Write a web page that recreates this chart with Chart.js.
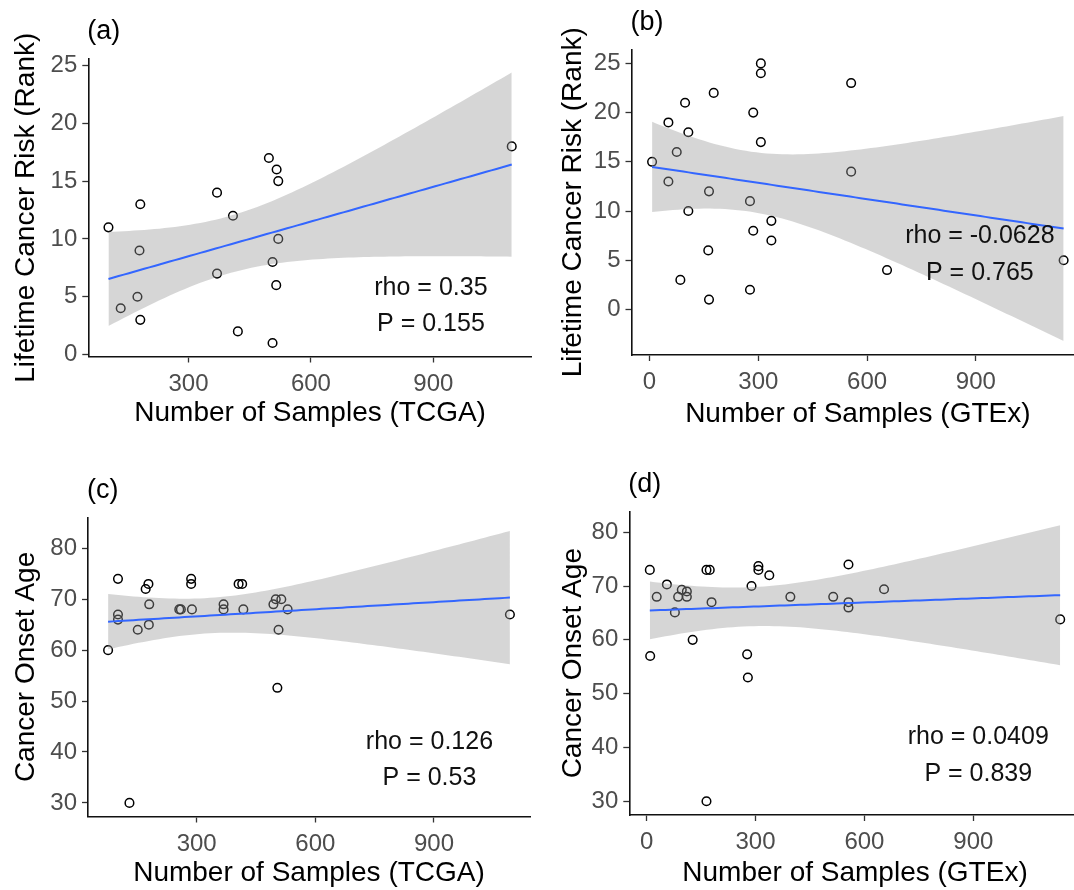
<!DOCTYPE html>
<html>
<head>
<meta charset="utf-8">
<script src="https://cdn.jsdelivr.net/npm/chart.js@4.4.0/dist/chart.umd.min.js"></script>
<style>
  html, body { margin: 0; padding: 0; background: #fff; width: 1074px; height: 890px; overflow: hidden; }
  .panel { position: absolute; }
</style>
</head>
<body>
<div class="panel" style="left:0px;top:0px"><canvas id="chartA" width="545" height="445"></canvas></div>
<div class="panel" style="left:545px;top:0px"><canvas id="chartB" width="545" height="445"></canvas></div>
<div class="panel" style="left:0px;top:445px"><canvas id="chartC" width="545" height="445"></canvas></div>
<div class="panel" style="left:545px;top:445px"><canvas id="chartD" width="545" height="445"></canvas></div>
<script>
// (a) number of TCGA samples vs lifetime cancer risk rank
const tcgaSamplesRisk = [104, 182, 180, 175, 134, 182, 370, 370, 409, 421, 497, 516, 520, 520, 506, 515, 506, 1092];
const riskRankTcga    = [11, 13, 9, 5, 4, 3, 14, 7, 12, 2, 17, 16, 15, 10, 8, 6, 1, 18];

// (b) number of GTEx samples vs lifetime cancer risk rank
const gtexSamplesRisk = [7, 52, 52, 75, 98, 107, 107, 85, 177, 164, 162, 164, 286, 307, 307, 307, 277, 286, 277, 336, 336, 556, 556, 655, 1142];
const riskRankGtex    = [15, 19, 13, 16, 21, 18, 10, 3, 22, 12, 6, 1, 20, 25, 24, 17, 11, 8, 2, 9, 7, 23, 14, 4, 5];

// (c) number of TCGA samples vs cancer onset age
const tcgaSamplesOnset = [76, 101, 101, 101, 130, 151, 171, 178, 180, 179, 256, 260, 288, 286, 286, 368, 368, 406, 415, 418, 494, 500, 514, 507, 504, 530, 1092];
const onsetAgeTcga     = [60, 74, 67, 66, 30, 64, 72, 73, 69, 65, 68, 68, 68, 74, 73, 69, 68, 73, 73, 68, 69, 70, 70, 64, 52.6, 68, 67];

// (d) number of GTEx samples vs cancer onset age
const gtexSamplesOnset = [9, 10, 28, 56, 78, 87, 97, 111, 111, 127, 165, 165, 174, 179, 277, 279, 289, 308, 308, 338, 396, 514, 556, 556, 556, 654, 1139];
const onsetAgeGtex     = [73, 57, 68, 70.3, 65.1, 68, 69.3, 69, 68, 60, 30, 73, 73, 67, 57.3, 53, 70, 73.7, 73, 72, 68, 68, 74, 67, 66, 69.4, 63.8];

// tick labels
const rankTicks = [0, 5, 10, 15, 20, 25];
const ageTicks  = [30, 40, 50, 60, 70, 80];
const tcgaTicks = [300, 600, 900];
const gtexTicks = [0, 300, 600, 900];

// correlation text
const statA = ['rho = 0.35', 'P = 0.155'];
const statB = ['rho = -0.0628', 'P = 0.765'];
const statC = ['rho = 0.126', 'P = 0.53'];
const statD = ['rho = 0.0409', 'P = 0.839'];

const FONT = '"Liberation Sans", Arial, sans-serif';

// t quantile (0.975) - Cornish-Fisher expansion
function tCrit(df) {
  const z = 1.959964;
  const z3 = z * z * z, z5 = z3 * z * z, z7 = z5 * z * z;
  return z + (z3 + z) / (4 * df) + (5 * z5 + 16 * z3 + 3 * z) / (96 * df * df)
    + (3 * z7 + 19 * z5 + 17 * z3 - 15 * z) / (384 * df * df * df);
}

// linear model with 95% confidence band, like geom_smooth(method = "lm")
function lmBand(xs, ys) {
  const n = xs.length;
  const mx = xs.reduce((a, b) => a + b, 0) / n;
  const my = ys.reduce((a, b) => a + b, 0) / n;
  let sxx = 0, sxy = 0, syy = 0;
  for (let i = 0; i < n; i++) {
    sxx += (xs[i] - mx) ** 2;
    sxy += (xs[i] - mx) * (ys[i] - my);
    syy += (ys[i] - my) ** 2;
  }
  const b = sxy / sxx, a = my - b * mx;
  const s = Math.sqrt((syy - b * sxy) / (n - 2));
  const t = tCrit(n - 2);
  const x0 = Math.min(...xs), x1 = Math.max(...xs);
  const fit = [], upper = [], lower = [];
  for (let i = 0; i < 80; i++) {
    const x = x0 + (x1 - x0) * i / 79;
    const yh = a + b * x;
    const se = s * Math.sqrt(1 / n + (x - mx) ** 2 / sxx);
    fit.push({x: x, y: yh});
    upper.push({x: x, y: yh + t * se});
    lower.push({x: x, y: yh - t * se});
  }
  const yAll = ys.concat(upper.map(p => p.y), lower.map(p => p.y));
  const ylo = Math.min(...yAll), yhi = Math.max(...yAll);
  const dx = (x1 - x0) * 0.05, dy = (yhi - ylo) * 0.05;
  return {fit, upper, lower, xlim: [x0 - dx, x1 + dx], ylim: [ylo - dy, yhi + dy]};
}

const statText = {
  id: 'statText',
  afterDatasetsDraw(chart, args, o) {
    const {ctx, chartArea, scales} = chart;
    ctx.save();
    ctx.fillStyle = '#111';
    ctx.textBaseline = 'middle';
    ctx.textAlign = 'center';
    ctx.font = '25px ' + FONT;
    const px = scales.x.getPixelForValue(o.at[0]);
    const py = scales.y.getPixelForValue(o.at[1]);
    o.lines.forEach((t, i) => ctx.fillText(t, px, py + i * 36.5));
    ctx.textAlign = 'left';
    ctx.font = '27px ' + FONT;
    ctx.fillStyle = '#000';
    ctx.fillText(o.tag, chartArea.left - 1, chartArea.top - 27);
    ctx.restore();
  }
};

function makePanel(id, p) {
  const m = lmBand(p.x, p.y);
  const pts = p.x.map((v, i) => ({x: v, y: p.y[i]}));
  new Chart(document.getElementById(id), {
    type: 'scatter',
    data: {
      datasets: [
        { type: 'line', data: m.fit, borderColor: '#3366FF', borderWidth: 2, pointRadius: 0, fill: false, order: 1 },
        { type: 'line', data: m.upper, borderColor: 'rgba(0,0,0,0)', pointRadius: 0,
          backgroundColor: 'rgba(153,153,153,0.4)', fill: '+1', order: 2 },
        { type: 'line', data: m.lower, borderColor: 'rgba(0,0,0,0)', pointRadius: 0, fill: false, order: 2 },
        { data: pts, pointRadius: 4.3, pointBorderWidth: 1.5, pointBorderColor: '#000',
          pointBackgroundColor: 'rgba(0,0,0,0)', borderColor: '#000', backgroundColor: 'rgba(0,0,0,0)', order: 3 }
      ]
    },
    options: {
      responsive: false,
      animation: false,
      events: [],
      devicePixelRatio: 1,
      layout: { padding: { top: p.L.top, right: p.L.right, left: 0, bottom: 0 } },
      plugins: {
        legend: { display: false },
        tooltip: { enabled: false },
        statText: { lines: p.stat, at: p.statAt, tag: p.tag }
      },
      scales: {
        x: {
          type: 'linear', min: m.xlim[0], max: m.xlim[1],
          afterBuildTicks: s => { s.ticks = p.xTicks.map(v => ({value: v})); },
          afterFit: s => { s.height = p.L.xh; },
          grid: { drawOnChartArea: false, tickLength: 6, tickColor: '#333', tickWidth: 1.3 },
          border: { color: '#111', width: 1.6 },
          ticks: { color: '#4D4D4D', font: { size: 24, family: FONT }, padding: 7, autoSkip: false, maxRotation: 0 },
          title: { display: true, text: p.xTitle, color: '#000', font: { size: 28, family: FONT },
                   padding: { top: 0, bottom: p.L.xtp } }
        },
        y: {
          type: 'linear', min: m.ylim[0], max: m.ylim[1],
          afterBuildTicks: s => { s.ticks = p.yTicks.map(v => ({value: v})); },
          afterFit: s => { s.width = p.L.yw; },
          grid: { drawOnChartArea: false, tickLength: 6, tickColor: '#333', tickWidth: 1.3 },
          border: { color: '#111', width: 1.6 },
          ticks: { color: '#4D4D4D', font: { size: 24, family: FONT }, padding: 5, autoSkip: false },
          title: { display: true, text: p.yTitle, color: '#000', font: { size: 28, family: FONT },
                   padding: { top: p.L.ytp, bottom: 0 } }
        }
      }
    },
    plugins: [statText]
  });
}

makePanel('chartA', {
  x: tcgaSamplesRisk, y: riskRankTcga, xTicks: tcgaTicks, yTicks: rankTicks,
  xTitle: 'Number of Samples (TCGA)', yTitle: 'Lifetime Cancer Risk (Rank)',
  stat: statA, statAt: [894, 5.75], tag: '(a)',
  L: { top: 59, right: 13.1, yw: 88.3, xh: 88.5, xtp: 15.2, ytp: 9.5 }
});
makePanel('chartB', {
  x: gtexSamplesRisk, y: riskRankGtex, xTicks: gtexTicks, yTicks: rankTicks,
  xTitle: 'Number of Samples (GTEx)', yTitle: 'Lifetime Cancer Risk (Rank)',
  stat: statB, statAt: [911, 7.45], tag: '(b)',
  L: { top: 49.5, right: 5.6, yw: 86.5, xh: 90, xtp: 14.4, ytp: 11 }
});
makePanel('chartC', {
  x: tcgaSamplesOnset, y: onsetAgeTcga, xTicks: tcgaTicks, yTicks: ageTicks,
  xTitle: 'Number of Samples (TCGA)', yTitle: 'Cancer Onset Age',
  stat: statC, statAt: [888.6, 41.96], tag: '(c)',
  L: { top: 72.4, right: 15, yw: 88, xh: 73.5, xtp: 0, ytp: 9.5 }
});
makePanel('chartD', {
  x: gtexSamplesOnset, y: onsetAgeGtex, xTicks: gtexTicks, yTicks: ageTicks,
  xTitle: 'Number of Samples (GTEx)', yTitle: 'Cancer Onset Age',
  stat: statD, statAt: [913.5, 41.86], tag: '(d)',
  L: { top: 66.4, right: 9.3, yw: 84.3, xh: 75, xtp: 0, ytp: 11 }
});
</script>
</body>
</html>
